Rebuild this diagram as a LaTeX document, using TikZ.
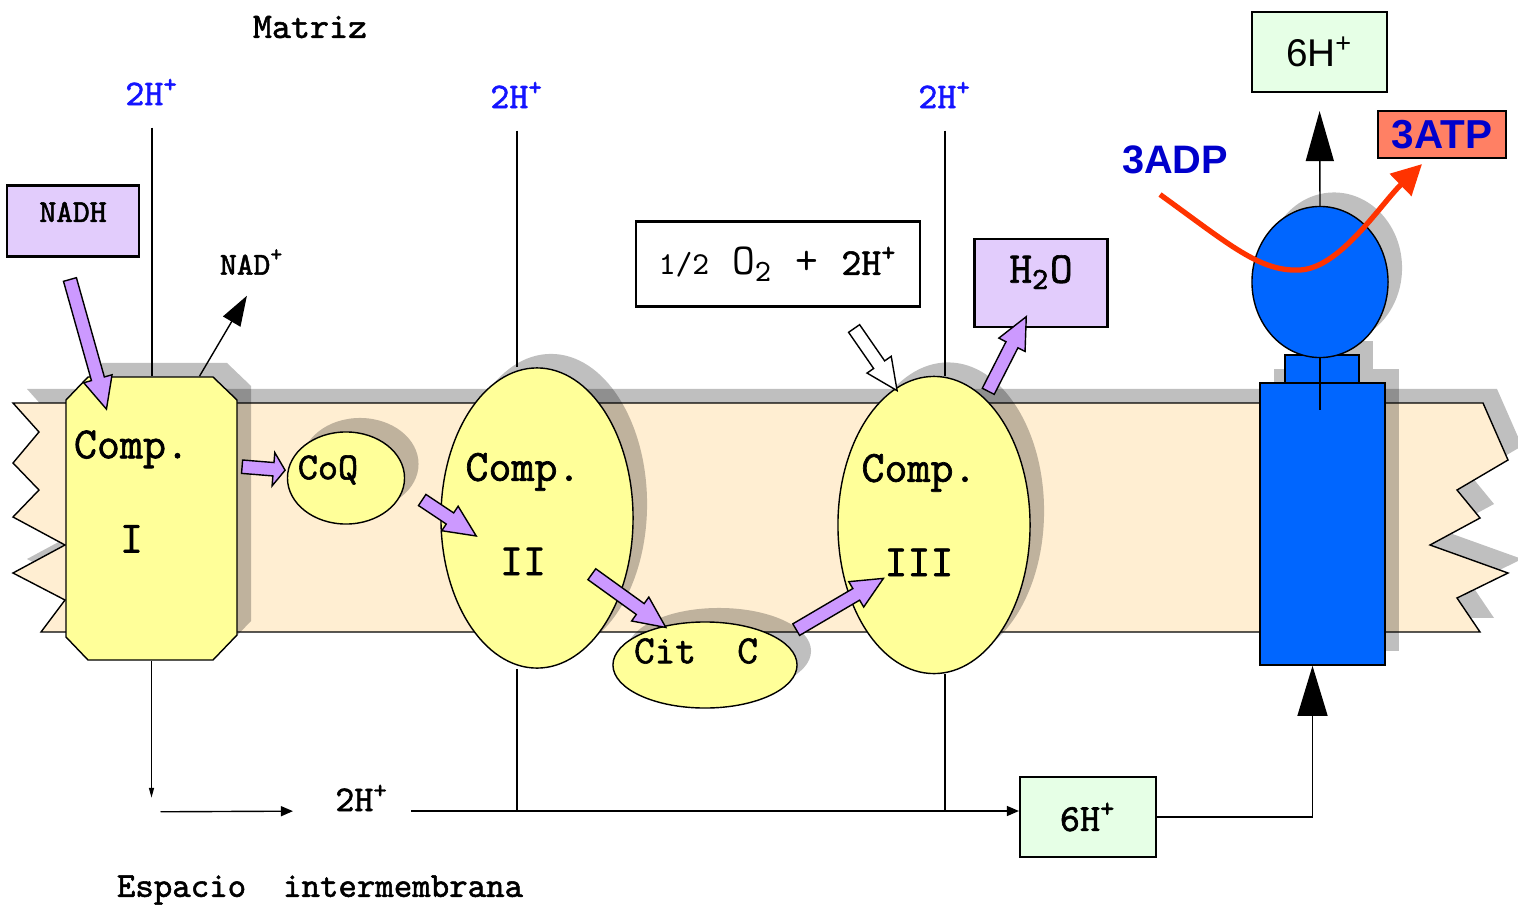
\documentclass[tikz,border=0pt]{standalone}
\usepackage{fontspec}
\setsansfont{Liberation Sans}
\setmonofont{Latin Modern Mono}[BoldFont={Latin Modern Mono},BoldFeatures={FakeBold=1.5}]
\usetikzlibrary{arrows.meta,positioning,calc,shapes.geometric,shapes.arrows,shadows}

\definecolor{membfill}{RGB}{255,238,210}
\definecolor{compyellow}{RGB}{255,255,153}
\definecolor{lilac}{RGB}{226,204,252}
\definecolor{arrowviolet}{RGB}{204,153,255}
\definecolor{paleg}{RGB}{230,255,230}
\definecolor{synblue}{RGB}{0,102,255}
\definecolor{salmon}{RGB}{255,128,100}
\definecolor{curvered}{RGB}{255,51,0}
\definecolor{hblue}{RGB}{20,20,255}
\definecolor{adpblue}{RGB}{0,0,204}

% fat arrow between two named points
\newcommand{\fatarrow}[3][]{%
  \path let \p1=($(#3)-(#2)$), \n1={veclen(\x1,\y1)} in
    (#2) -- (#3) node[fatarr,#1,midway,sloped,allow upside down,minimum height=\n1] {};}

\begin{document}
\begin{tikzpicture}[x=0.01cm,y=-0.01cm,>={Triangle[length=0.12cm,width=0.1cm]},
  every node/.style={font=\ttfamily},
  pshadow/.style={drop shadow={shadow xshift=0.14cm,shadow yshift=0.14cm,opacity=0.25,fill=black}},
  compbody/.style={draw,fill=compyellow,pshadow,inner sep=0pt},
  comptext/.style={align=center,font=\ttfamily\bfseries\fontsize{12.7}{14}\selectfont},
  tag/.style={font=\ttfamily\bfseries\fontsize{10.3}{11}\selectfont},
  hion/.style={tag,text=hblue},
  box/.style={draw,rectangle,inner sep=0pt,semithick},
  fatarr/.style={single arrow,draw,fill=arrowviolet,inner xsep=0pt,inner ysep=0.06cm,minimum width=0pt,
    single arrow head extend=0.08cm,single arrow tip angle=50,single arrow head indent=0pt}]
\useasboundingbox (0,0) rectangle (1518,909);

% membrane
\draw[fill=membfill,pshadow] (13,403) -- (1483,403) -- (1508,460) -- (1457,490) -- (1480,518)
  -- (1430,545) -- (1508,573) -- (1457,598) -- (1480,632) -- (41,632) -- (65,600) -- (13,573)
  -- (65,545) -- (13,517) -- (39,490) -- (13,463) -- (39,432) -- cycle;

% complexes
\draw[fill=compyellow,pshadow] (88,377) -- (213,377) -- (237,400) -- (237,635) -- (213,660)
  -- (88,660) -- (66,637) -- (66,400) -- cycle;
\node[inner sep=0pt,minimum width=1.71cm,minimum height=2.83cm,
  label={[comptext,xshift=-0.2cm,yshift=0.27cm]center:{Comp.\\[0.45cm]I}}] (c1) at (151.5,518.5) {};
\node[compbody,ellipse,minimum width=1.17cm,minimum height=0.92cm,
  label={[font=\ttfamily\bfseries\fontsize{10.9}{12}\selectfont,xshift=-0.18cm,yshift=0.08cm]center:CoQ}] (coq) at (346,478) {};
\node[compbody,ellipse,minimum width=1.92cm,minimum height=3.0cm,
  label={[comptext,xshift=-0.14cm,yshift=0.04cm]center:{Comp.\\[0.45cm]II}}] (c2) at (537,518) {};
\node[compbody,ellipse,minimum width=1.84cm,minimum height=0.86cm,
  label={[font=\ttfamily\bfseries\fontsize{11.4}{12}\selectfont,xshift=-0.09cm,yshift=0.14cm]center:{Cit\ \ C}}] (cit) at (705,665) {};
\node[compbody,ellipse,minimum width=1.92cm,minimum height=2.97cm,
  label={[comptext,xshift=-0.15cm,yshift=0.10cm]center:{Comp.\\[0.45cm]III}}] (c3) at (934,525) {};

% labels and boxes
\node[tag] (matriz) at (310,27) {Matriz};
\node[hion] (h1) at (152,92) {2H\textsuperscript{+}};
\node[hion] (h2) at (517,95) {2H\textsuperscript{+}};
\node[hion] (h3) at (945,95) {2H\textsuperscript{+}};
\node[box,fill=lilac,minimum width=1.32cm,minimum height=0.71cm,text depth=0.18cm,
  font=\ttfamily\bfseries\fontsize{9.1}{10}\selectfont] (nadh) at (73,221) {NADH};
\node[tag,font=\ttfamily\bfseries\fontsize{9.1}{10}\selectfont] (nad) at (252,262) {NAD\textsuperscript{+}};
\node[box,fill=white,minimum width=2.84cm,minimum height=0.85cm,
  font=\ttfamily\fontsize{12.6}{13}\selectfont] (ox) at (778,264)
  {{\fontsize{9.1}{10}\selectfont 1/2} O\textsubscript{2} + {\bfseries\fontsize{10.8}{11}\selectfont 2H\textsuperscript{+}}};
\node[box,fill=lilac,minimum width=1.33cm,minimum height=0.88cm,text depth=0.28cm,
  font=\ttfamily\bfseries\fontsize{12.5}{13}\selectfont] (h2o) at (1041,283) {H\textsubscript{2}O};

% ATP synthase
\node[draw,fill=synblue,pshadow,minimum width=1.25cm,minimum height=2.82cm,inner sep=0pt] (body) at (1322.5,524) {};
\node[draw,fill=synblue,pshadow,minimum width=0.74cm,minimum height=0.28cm,inner sep=0pt] (neck) at (1322,369) {};
\node[draw,ellipse,fill=synblue,pshadow,minimum width=1.36cm,minimum height=1.51cm,inner sep=0pt] (head) at (1320,282) {};
\node[box,fill=paleg,minimum width=1.35cm,minimum height=0.8cm,
  font=\sffamily\fontsize{11}{12}\selectfont] (h6top) at (1319.5,52) {6H\textsuperscript{+}};
\node[box,fill=salmon,minimum width=1.28cm,minimum height=0.47cm,text=adpblue,
  font=\sffamily\bfseries\fontsize{11.5}{12}\selectfont] (atp) at (1442,134.5) {3ATP};
\node[text=adpblue,font=\sffamily\bfseries\fontsize{11.3}{12}\selectfont] (adp) at (1175,160) {3ADP};

% intermembrane side
\node[tag,anchor=base] (hb) at (362,811) {2H\textsuperscript{+}};
\node[box,fill=paleg,minimum width=1.36cm,minimum height=0.8cm,
  font=\ttfamily\bfseries\fontsize{10.9}{11}\selectfont] (h6bot) at (1088,817) {6H\textsuperscript{+}};
\node[tag,font=\ttfamily\bfseries\fontsize{10}{11}\selectfont] (esp) at (320,890) {Espacio\ \ intermembrana};

% proton lines
\draw[shorten <=0.1cm] (h1.south) -- (h1.south |- c1.north);
\draw[shorten <=0.1cm] (h2.south) -- (h2.south |- c2.north);
\draw[shorten <=0.1cm] (h3.south) -- (h3.south |- c3.north);
\coordinate (d1) at ($(c1.south)+(0,137)$);
\draw[-{Triangle[length=0.1cm,width=0.05cm]}] (c1.south) -- (d1);
\draw[->,shorten >=0.3cm] ($(d1)+(9,14)$) -- (hb.base west);
\draw[->] (hb.base east) ++(10,0) -- (hb.base -| h6bot.west);
\draw (h2.south |- c2.south) -- (h2.south |- hb.base);
\draw (h3.south |- c3.south) -- (h3.south |- hb.base);
\draw[-{Triangle[length=0.5cm,width=0.3cm]}] (h6bot.east) -| ($(body.south)+(-10,0)$);
\draw[-{Triangle[length=0.5cm,width=0.28cm]},shorten >=0.18cm] (head.north) -- (h6top.south);
\draw (head.south) -- ++(0,52);
\draw[-{Triangle[length=0.3cm,width=0.2cm]},shorten >=0.1cm] ($(c1.north)+(48,0)$) -- (nad.south);

% ADP -> ATP
\draw[curvered,line width=1.5pt,-{Triangle[length=0.3cm,width=0.3cm]}] ($(adp.south)+(-15,8)$)
  .. controls (1230,245) and (1260,272) .. (1300,270)
  .. controls (1340,268) and (1380,205) .. ($(atp.south)+(-20,5)$);

% electron flow
\coordinate (n1) at ($(nadh.south)+(-5,15)$);
\coordinate (n2) at ($(c1.north)+(-47,26)$);
\coordinate (q1) at ($(c1.east)+(2,-52)$);
\coordinate (q2) at ($(coq.west)+(-4,-8)$);
\coordinate (r1) at ($(coq.east)+(11,18)$);
\coordinate (r2) at ($(c2.west)+(30,14)$);
\coordinate (s1) at ($(c2)+(49,52)$);
\coordinate (s2) at ($(cit.north)+(-45,2)$);
\coordinate (t1) at ($(cit.north)+(85,12)$);
\coordinate (t2) at ($(c3.west)+(40,57)$);
\coordinate (w1) at ($(c3.north)+(51,22)$);
\coordinate (w2) at ($(h2o.south)+(-18,-5)$);
\coordinate (o1) at ($(ox.south)+(72,15)$);
\coordinate (o2) at ($(c3.north)+(-41,9)$);
\fatarrow{n1}{n2}
\fatarrow[single arrow tip angle=110,single arrow head extend=0.1cm]{q1}{q2}
\fatarrow{r1}{r2}
\fatarrow{s1}{s2}
\fatarrow{t1}{t2}
\fatarrow{w1}{w2}
\fatarrow[fill=white]{o1}{o2}
\end{tikzpicture}
\end{document}
